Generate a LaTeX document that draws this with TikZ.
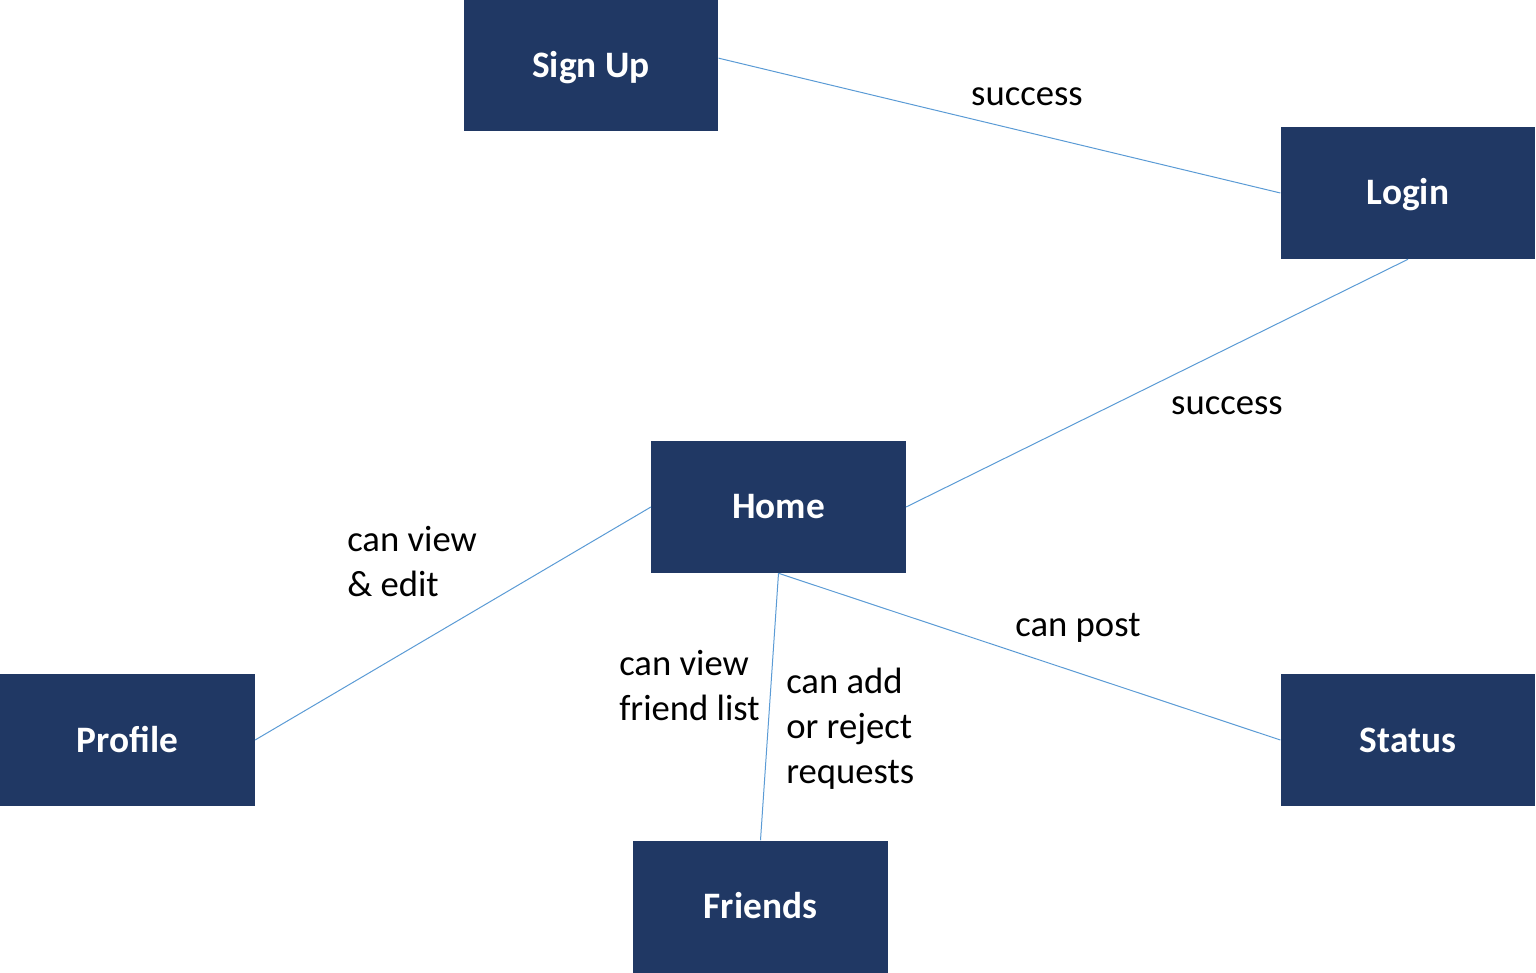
\documentclass[tikz,border=0pt]{standalone}
\usepackage{fontspec}
\setmainfont{Carlito}
\usepackage{xcolor}
\usetikzlibrary{positioning}
\definecolor{boxblue}{HTML}{203864}
\definecolor{linkblue}{HTML}{5B9BD5}

\begin{document}
\begin{tikzpicture}[
  x=0.75pt, y=-0.75pt,
  box/.style={rectangle, fill=boxblue, text=white, minimum width=191pt,
    minimum height=99pt, inner sep=0pt, align=center,
    text height=20.2pt, text depth=2.2pt,
    font=\fontsize{28}{34}\selectfont\bfseries},
  link/.style={draw=linkblue, line width=0.75pt},
  lbl/.style={font=\fontsize{27.5}{33.75}\selectfont, inner sep=0pt, align=left},
]
  \useasboundingbox (0,0) rectangle (1536,973);

  \node[box] (signup)  at (591,65.5)   {Sign Up};
  \node[box] (login)   at (1408,193)   {Login};
  \node[box] (home)    at (778.5,507)  {Home};
  \node[box] (profile) at (127.5,740)  {Profile};
  \node[box] (status)  at (1408,740)   {Status};
  \node[box] (friends) at (760.5,906.5) {Friends};

  \draw[link] ([yshift=5.5pt]signup.east) -- (login.west);
  \draw[link] (login.south) -- (home.east);
  \draw[link] (home.west) -- (profile.east);
  \draw[link] (home.south) -- (friends.north);
  \draw[link] (home.south) -- (status.west);

  \node[lbl] (l1) at (1027,96.5)  {success};
  \node[lbl] (l2) at (1227,405.5) {success};
  \node[lbl, anchor=west] (l3) at (347,562) {can view\\\& edit};
  \node[lbl, anchor=west] (l4) at (619,686) {can view\\friend list};
  \node[lbl, anchor=west] (l5) at (786,729) {can add\\or reject\\requests};
  \node[lbl] (l6) at (1078,627.5) {can post};
\end{tikzpicture}
\end{document}
